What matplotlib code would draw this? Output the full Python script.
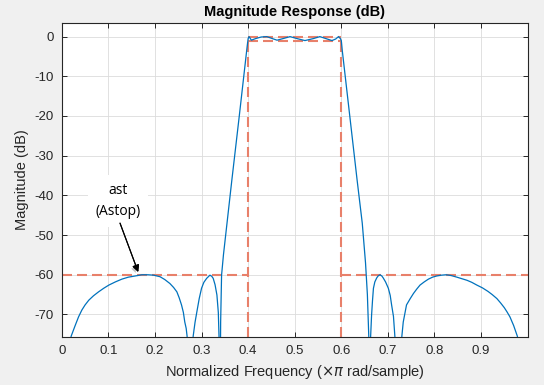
import matplotlib
matplotlib.use('Agg')
import matplotlib.pyplot as plt
import matplotlib.patheffects as pe

# magnitude response (normalized freq, dB)
freq = [0.000, 0.010, 0.020, 0.029, 0.036, 0.043, 0.050, 0.058, 0.068, 0.079,
        0.090, 0.101, 0.115, 0.129, 0.143, 0.158, 0.172, 0.185, 0.197, 0.211,
        0.221, 0.232, 0.240, 0.247, 0.252, 0.257, 0.261, 0.264, 0.267, 0.269,
        0.2755, 0.282, 0.286, 0.290, 0.295, 0.300, 0.305, 0.311, 0.318, 0.322,
        0.325, 0.329, 0.333, 0.336, 0.3375, 0.339, 0.341, 0.343, 0.347, 0.365,
        0.381, 0.397, 0.400, 0.402, 0.407, 0.416, 0.428, 0.440, 0.452, 0.462,
        0.475, 0.490, 0.505, 0.522, 0.540, 0.554, 0.567, 0.580, 0.588, 0.594,
        0.598, 0.600, 0.602, 0.634, 0.645, 0.652, 0.656, 0.659, 0.661, 0.663,
        0.665, 0.667, 0.669, 0.672, 0.676, 0.679, 0.683, 0.687, 0.690, 0.695,
        0.701, 0.705, 0.708, 0.712, 0.715, 0.7225, 0.730, 0.733, 0.740, 0.748,
        0.755, 0.762, 0.769, 0.778, 0.787, 0.796, 0.805, 0.815, 0.825, 0.836,
        0.848, 0.859, 0.870, 0.880, 0.891, 0.903, 0.915, 0.924, 0.934, 0.942,
        0.950, 0.956, 0.962, 0.970, 0.978, 0.990, 0.998]
mag = [-130, -85, -75.5, -72.7, -70.6, -68.9, -67.6, -66.4, -65.3, -64.3,
       -63.4, -62.6, -61.8, -61.1, -60.6, -60.3, -60.0, -60.0, -60.1, -60.5,
       -61.2, -62.2, -63.2, -64.3, -65.8, -67.6, -69.5, -71.9, -73.5, -75.5,
       -110, -75.5, -72.0, -69.3, -66.0, -63.4, -61.9, -60.9, -60.1, -60.4,
       -60.9, -62.5, -65.1, -69.5, -75.5, -110, -71.9, -60.1, -55.0, -36.2,
       -20.0, -3.4, -0.5, 0.0, -0.9, -0.5, -0.1, 0.0, -0.5, -0.9,
       -0.5, 0.0, -0.5, -1.0, -0.5, 0.0, -0.5, -1.0, -0.6, 0.0,
       -0.5, -1.0, -3.4, -36.2, -47.0, -57.0, -65.0, -75.5, -110, -75.5,
       -70.2, -66.5, -63.4, -61.8, -60.8, -60.3, -60.0, -60.3, -60.8, -61.8,
       -63.4, -65.2, -67.6, -70.5, -75.5, -110, -75.5, -71.9, -67.6, -66.0,
       -64.7, -63.6, -62.6, -61.8, -61.1, -60.6, -60.3, -60.1, -60.0, -60.2,
       -60.6, -61.0, -61.4, -61.9, -62.6, -63.3, -64.2, -65.0, -66.0, -67.1,
       -68.3, -69.4, -70.6, -72.8, -75.5, -85, -110]

# filter specs (mask)
fstop = [0.4, 0.6]
astop = 60
apass = 1

xticks = [0, 0.1, 0.2, 0.3, 0.4, 0.5, 0.6, 0.7, 0.8, 0.9]
yticks = [0, -10, -20, -30, -40, -50, -60, -70]

plt.rcParams['font.family'] = ['Liberation Sans', 'DejaVu Sans']
plt.rcParams['axes.unicode_minus'] = False
plt.rcParams['mathtext.fontset'] = 'dejavusans'

fig = plt.figure(figsize=(5.44, 3.85), dpi=100, facecolor='#f0f0f0')
ax = fig.add_axes([0.1136, 0.1255, 0.8563, 0.8155])
ax.set_facecolor('white')

ylo, yhi = -75.6, 3.5
mask_col = '#e8806a'
mk = dict(color=mask_col, lw=1.5, dashes=(4.8, 2.4), zorder=2)
# stopband masks
ax.plot([0, fstop[0]], [-astop, -astop], **mk)
ax.plot([fstop[1], 1], [-astop, -astop], **mk)
# passband box
ax.plot([fstop[0], fstop[0]], [ylo, 0], **mk)
ax.plot([fstop[1], fstop[1]], [ylo, 0], **mk)
ax.plot([fstop[0], fstop[1]], [0, 0], **mk)
ax.plot([fstop[0], fstop[1]], [-apass, -apass], **mk)

ax.plot(freq, mag, color='#0072bd', lw=0.9, zorder=3)

ax.set_xlim(0, 1)
ax.set_ylim(ylo, yhi)
ax.set_xticks(xticks)
ax.set_xticklabels([f'{t:g}' for t in xticks])
ax.set_yticks(yticks)
ax.grid(True, color='#dcdcdc', lw=0.6)
ax.set_axisbelow(True)
ax.tick_params(direction='in', top=True, right=True, length=3.5, width=0.7,
               labelsize=9.5, colors='#262626', pad=6)
for s in ax.spines.values():
    s.set_color('#262626')
    s.set_linewidth(0.8)

ax.set_title('Magnitude Response (dB)', fontsize=10.5, fontweight='bold', pad=5)
ax.set_xlabel(r'Normalized Frequency ($\times\pi$ rad/sample)', fontsize=10.5, color='#262626')
ax.set_ylabel('Magnitude (dB)', fontsize=10.5, color='#262626')

# Astop annotation: text box + arrow
ax.text(0.121, -41.4, 'ast\n(Astop)', ha='center', va='center', fontsize=10,
        family=['Open Sans', 'DejaVu Sans'], linespacing=1.6, zorder=5,
        bbox=dict(boxstyle='square,pad=0.55', fc='white', ec='none'))
ax.annotate('', xy=(0.164, -59.3), xytext=(0.125, -47.0),
            arrowprops=dict(arrowstyle='-|>', color='black', lw=0.8, shrinkA=0, shrinkB=0,
                            mutation_scale=10,
                            path_effects=[pe.withSimplePatchShadow(offset=(-1.5, -1.5),
                                                                   shadow_rgbFace='#808080', alpha=0.45),
                                          pe.Normal()]),
            zorder=6)

fig.savefig('out.png', dpi=100, facecolor=fig.get_facecolor())
